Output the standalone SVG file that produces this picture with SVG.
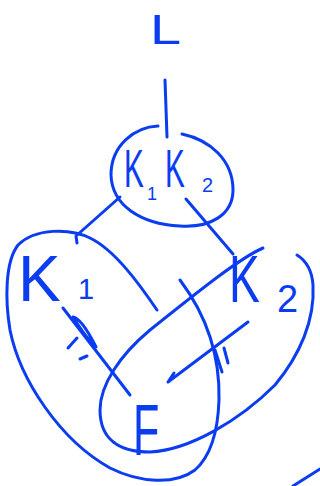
<svg xmlns="http://www.w3.org/2000/svg" width="320" height="486" viewBox="0 0 320 486">
<style>
.s{fill:none;stroke:#0a3cf2;stroke-width:3;stroke-linecap:round;stroke-linejoin:round}
.t{fill:#0a3cf2;font-family:"Liberation Sans",Arial,sans-serif}
</style>
<rect width="320" height="486" fill="#ffffff"/>
<g id="node-L"><text class="t" font-size="43" transform="translate(150,44) scale(1.3,1)">L</text></g>
<g id="node-K1K2">
<path class="s" d="M182,134 C210,140 233,160 233,190 C233,215 210,228 180,226 C140,224 112,205 111,175 C111,145 135,127 158,126"/>
<text class="t" font-size="54" transform="translate(124,187) scale(0.55,1)">K</text>
<text class="t" font-size="18" transform="translate(147,200)">1</text>
<text class="t" font-size="54" transform="translate(165,187) scale(0.55,1)">K</text>
<text class="t" font-size="20" transform="translate(202,192)">2</text>
</g>
<g id="set-left"><path class="s" d="M157,310 C140,285 115,250 90,238 C70,228 35,228 18,245 C5,262 5,300 10,330 C20,380 60,440 110,468 C140,483 175,485 195,470 C212,455 218,430 219,400 C220,360 210,320 180,280"/></g>
<g id="set-right"><path class="s" d="M263,248 C240,258 200,290 150,330 C120,355 100,385 100,410 C100,440 120,452 150,452 C190,450 240,420 275,385 C300,355 315,320 313,285 C312,270 305,260 297,255"/></g>
<g id="node-K1">
<text class="t" font-size="64" transform="translate(18,301)">K</text>
<text class="t" font-size="29" transform="translate(78,299)">1</text>
</g>
<g id="node-K2">
<text class="t" font-size="66" transform="translate(229,302) scale(0.7,1)">K</text>
<text class="t" font-size="38" transform="translate(277,312)">2</text>
</g>
<g id="node-F"><text class="t" font-size="72" transform="translate(133,455) scale(0.6,1)">F</text></g>
<g id="connectors">
<path class="s" d="M165,80 L167,137"/>
<path class="s" d="M120,197 L76,236 L77,243"/>
<path class="s" d="M186,199 L233,254"/>
<path class="s" d="M63,308 L130,395"/>
<path class="s" stroke-width="2" d="M73,317 C80,318 90,335 96,347 C88,340 78,325 73,317"/>
<path class="s" d="M68,348 L77,338 M80,359 L87,356"/>
<path class="s" d="M248,322 L168,382 L174,373"/>
<path class="s" d="M215,350 L222,372 M224,348 L228,363"/>
</g>
<path class="s" d="M293,486 L320,469"/>
</svg>
